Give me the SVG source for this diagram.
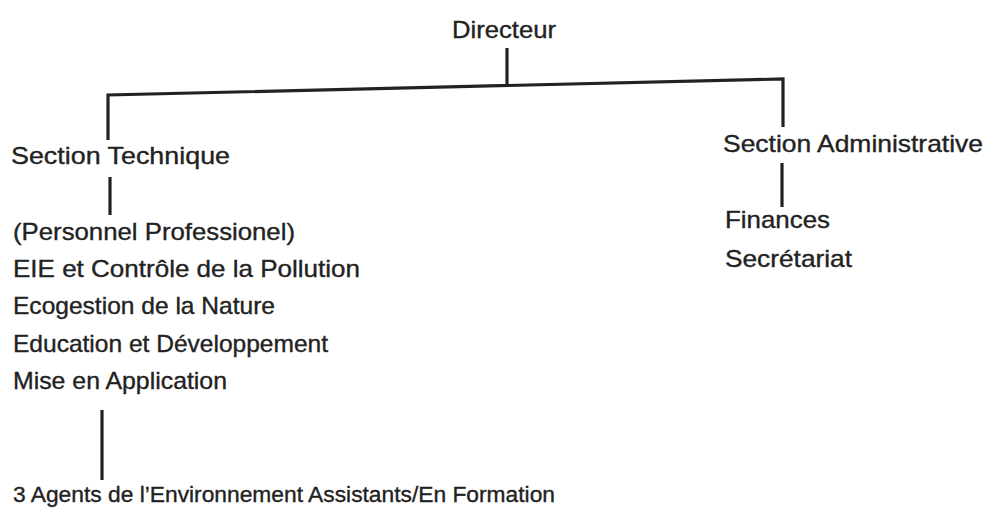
<svg xmlns="http://www.w3.org/2000/svg" width="988" height="514" viewBox="0 0 988 514">
<style>
text{font-family:"Liberation Sans",Arial,Helvetica,sans-serif;font-size:24px;fill:#222;stroke:#222;stroke-width:0.35}
.c{stroke:#222;stroke-width:3.2;fill:none;stroke-linecap:butt}
</style>
<rect width="988" height="514" fill="#fff"/>
<g id="connectors">
<path class="c" d="M507,48 V85"/>
<path class="c" d="M108,140 V95 L783,79 V127"/>
<path class="c" d="M110,177 V215"/>
<path class="c" d="M102,410 V480"/>
<path class="c" d="M782,163 V207"/>
</g>
<g id="directeur"><text x="452" y="38" textLength="104" lengthAdjust="spacingAndGlyphs">Directeur</text></g>
<g id="section-technique"><text x="11" y="164" textLength="219" lengthAdjust="spacingAndGlyphs">Section Technique</text></g>
<g id="technique-list">
<text x="13" y="240" textLength="282" lengthAdjust="spacingAndGlyphs">(Personnel Professionel)</text>
<text x="13" y="277" textLength="347" lengthAdjust="spacingAndGlyphs">EIE et Contrôle de la Pollution</text>
<text x="13" y="314" textLength="262" lengthAdjust="spacingAndGlyphs">Ecogestion de la Nature</text>
<text x="13" y="352" textLength="315" lengthAdjust="spacingAndGlyphs">Education et Développement</text>
<text x="13" y="389" textLength="214" lengthAdjust="spacingAndGlyphs">Mise en Application</text>
</g>
<g id="agents"><text x="13" y="502" style="font-size:22px" textLength="542" lengthAdjust="spacingAndGlyphs">3 Agents de l’Environnement Assistants/En Formation</text></g>
<g id="section-administrative"><text x="723" y="152" textLength="260" lengthAdjust="spacingAndGlyphs">Section Administrative</text></g>
<g id="admin-list">
<text x="725" y="228" textLength="105" lengthAdjust="spacingAndGlyphs">Finances</text>
<text x="725" y="267" textLength="127" lengthAdjust="spacingAndGlyphs">Secrétariat</text>
</g>
</svg>
